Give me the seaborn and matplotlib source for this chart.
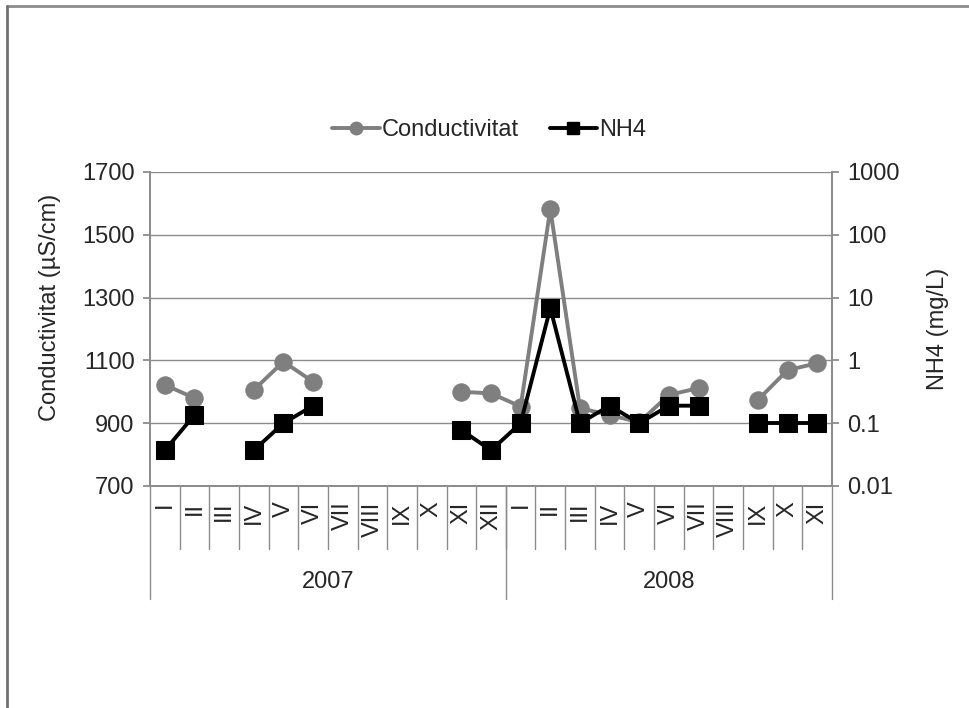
import numpy as np
import pandas as pd
import matplotlib
matplotlib.use("Agg")
import matplotlib.pyplot as plt
from matplotlib.lines import Line2D
from matplotlib.ticker import FixedLocator, FixedFormatter, NullLocator
import seaborn as sns

# ---- data ----
years = ["2007"] * 12 + ["2008"] * 11
months = ["I", "II", "III", "IV", "V", "VI", "VII", "VIII", "IX", "X", "XI", "XII",
          "I", "II", "III", "IV", "V", "VI", "VII", "VIII", "IX", "X", "XI"]
conductivitat = [1022, 980, np.nan, 1006, 1096, 1032, np.nan, np.nan, np.nan, np.nan, 1000, 995,
                 953, 1582, 948, 926, 903, 990, 1012, np.nan, 974, 1069, 1091]
nh4 = [0.037, 0.135, np.nan, 0.037, 0.1, 0.19, np.nan, np.nan, np.nan, np.nan, 0.078, 0.037,
       0.1, 6.8, 0.1, 0.19, 0.1, 0.19, 0.19, np.nan, 0.1, 0.1, 0.1]
left_ticks = [700, 900, 1100, 1300, 1500, 1700]
right_ticks = [0.01, 0.1, 1, 10, 100, 1000]
right_labels = ["0.01", "0.1", "1", "10", "100", "1000"]


def segments(values):
    seg, cur, prev_nan = [], 0, True
    for v in values:
        if np.isnan(v):
            seg.append(np.nan)
            prev_nan = True
        else:
            if prev_nan:
                cur += 1
            seg.append(cur)
            prev_nan = False
    return seg


df = pd.DataFrame({"x": np.arange(len(months)), "cond": conductivitat, "nh4": nh4})
df["seg_c"] = segments(conductivitat)
df["seg_n"] = segments(nh4)

sns.set_theme(style="white")
plt.rcParams["font.family"] = ["Liberation Sans", "DejaVu Sans"]
FS = 17

fig = plt.figure(figsize=(9.69, 7.08), dpi=100)
ax = fig.add_axes([150 / 969, 1 - 486 / 708, 682 / 969, 314 / 708])
ax2 = ax.twinx()

gray = "#7f7f7f"
dc = df.dropna(subset=["cond"])
sns.lineplot(data=dc, x="x", y="cond", units="seg_c", estimator=None, ax=ax,
             color=gray, linewidth=2.8, marker="o", markersize=12.5,
             markeredgecolor=gray, zorder=3)
dn = df.dropna(subset=["nh4"])
sns.lineplot(data=dn, x="x", y="nh4", units="seg_n", estimator=None, ax=ax2,
             color="black", linewidth=2.8, marker="s", markersize=12.5,
             markeredgecolor="black", zorder=4)

n = len(months)
ax.set_xlim(-0.5, n - 0.5)
ax.set_ylim(700, 1700)
ax.set_yticks(left_ticks)
ax.tick_params(axis="y", labelsize=FS, length=5, color="#888888", direction="out", pad=6)
ax.yaxis.grid(True, color="#8c8c8c", linewidth=1)
ax.set_axisbelow(True)
ax.set_ylabel("Conductivitat (µS/cm)", fontsize=FS)
ax.yaxis.set_label_coords(-0.13, 0.57)
ax.set_xlabel("")
ax.set_xticks([])

ax2.set_yscale("log")
ax2.set_ylim(0.01, 1000)
ax2.yaxis.set_major_locator(FixedLocator(right_ticks))
ax2.yaxis.set_major_formatter(FixedFormatter(right_labels))
ax2.yaxis.set_minor_locator(NullLocator())
ax2.tick_params(axis="y", labelsize=FS, length=5, color="#888888", direction="out", pad=6)
ax2.set_ylabel("NH4 (mg/L)", fontsize=FS)
ax2.yaxis.set_label_coords(1.14, 0.5)
ax2.set_xlabel("")
ax2.set_xticks([])
ax2.grid(False)

for a in (ax, ax2):
    a.spines["top"].set_visible(False)
    a.spines["left"].set_color("#8c8c8c")
    a.spines["right"].set_color("#8c8c8c")
    a.spines["bottom"].set_color("#8c8c8c")

# category axis: separators and labels
trans = ax.get_xaxis_transform()
for i in range(1, n):
    ax.plot([i - 0.5, i - 0.5], [0, -0.2], transform=trans, color="#8c8c8c",
            linewidth=1, clip_on=False)
for i, m in enumerate(months):
    ax.text(i, -0.05, m, transform=trans, rotation=90, ha="center", va="top",
            fontsize=FS)
# year separators and labels
bounds = [-0.5]
for i in range(1, n):
    if years[i] != years[i - 1]:
        bounds.append(i - 0.5)
bounds.append(n - 0.5)
for b in bounds:
    ax.plot([b, b], [0, -0.36], transform=trans, color="#8c8c8c", linewidth=1,
            clip_on=False)
for k in range(len(bounds) - 1):
    yr = years[int(bounds[k] + 0.5)]
    ax.text((bounds[k] + bounds[k + 1]) / 2, -0.305, yr, transform=trans,
            ha="center", va="center", fontsize=FS)

# legend
handles = [Line2D([], [], color=gray, linewidth=2.8, marker="o", markersize=9),
           Line2D([], [], color="black", linewidth=2.8, marker="s", markersize=9)]
fig.legend(handles, ["Conductivitat", "NH4"], loc="center", bbox_to_anchor=(0.505, 1 - 130 / 708),
           ncol=2, frameon=False, fontsize=FS, handlelength=2.0, handletextpad=0.1,
           columnspacing=1.3)

# outer frame (top and left edges)
fig.add_artist(Line2D([7 / 969, 1], [1 - 6 / 708, 1 - 6 / 708], transform=fig.transFigure,
                      color="#8c8c8c", linewidth=2))
fig.add_artist(Line2D([7 / 969, 7 / 969], [0, 1 - 6 / 708], transform=fig.transFigure,
                      color="#707070", linewidth=2))

fig.savefig("out.png", dpi=100)
